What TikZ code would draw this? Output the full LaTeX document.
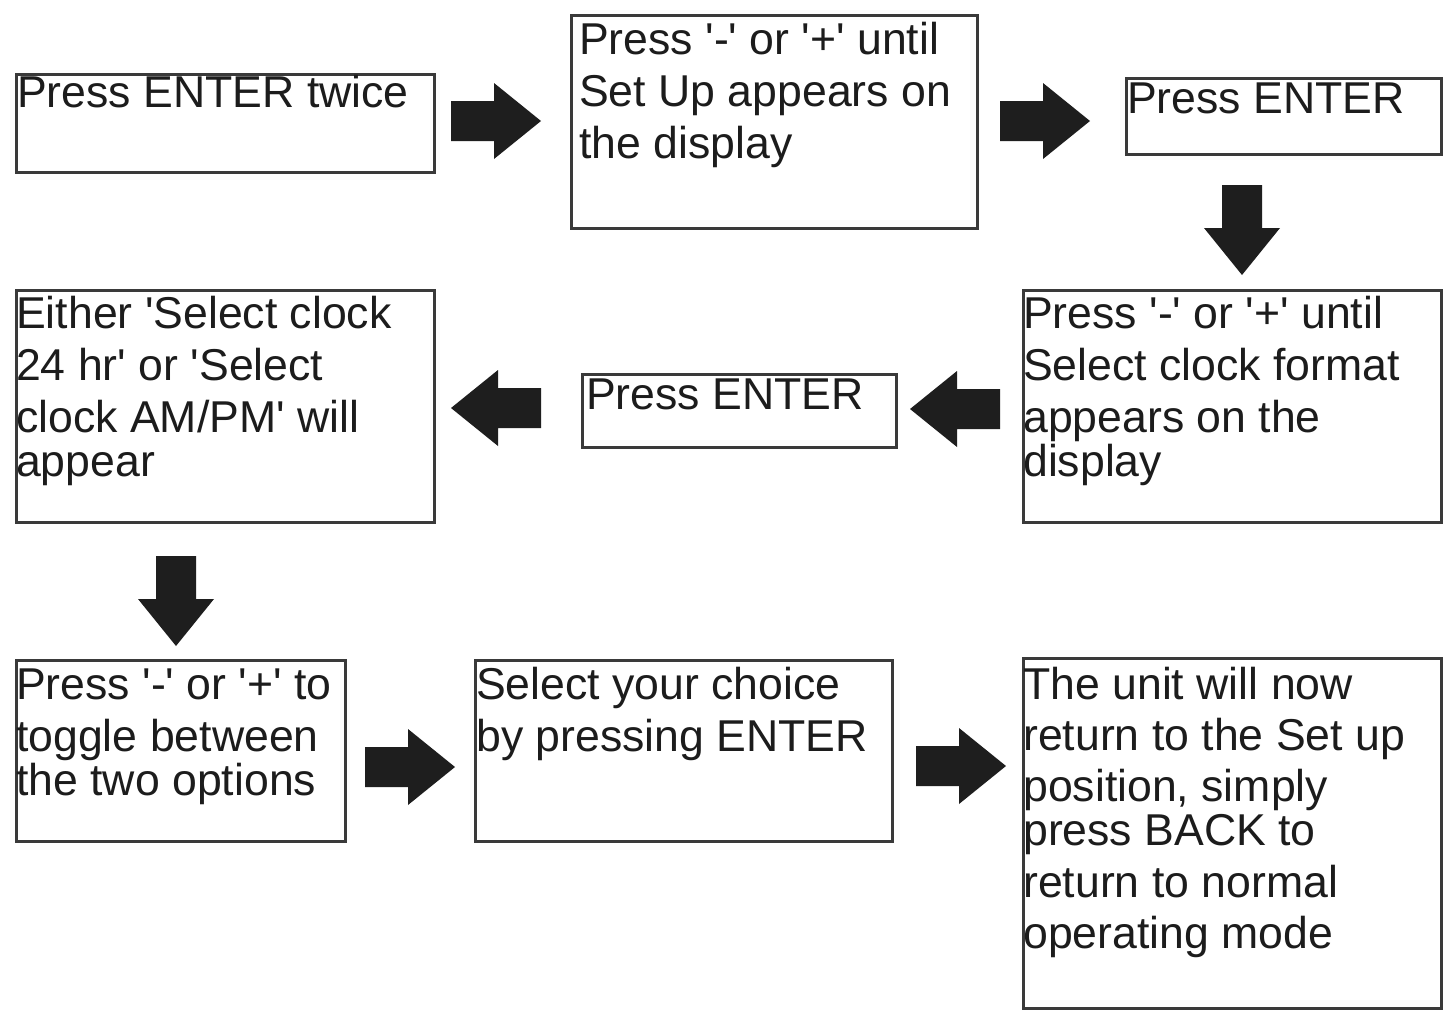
\documentclass[tikz,border=0pt]{standalone}
\usepackage{fontspec}
\newfontfamily\arialf{Liberation Sans}
\definecolor{boxline}{HTML}{3A3A3A}
\definecolor{inkc}{HTML}{1C1C1C}
\definecolor{arrowc}{HTML}{1E1E1E}
\tikzset{
  box/.style={draw=boxline, line width=3pt, fill=white, rectangle, inner sep=0pt, anchor=north west},
  txt/.style={inner sep=0pt, anchor=base west, align=left, text=inkc, font=\arialf\fontsize{44.6}{52}\selectfont},
  blockarrow/.style={fill=arrowc}
}
\newcommand\bigarrow[3]{%
  \fill[blockarrow, shift={(#1,#2)}, rotate=#3]
    (-45,-20) -- (-2,-20) -- (-2,-38) -- (45,0) -- (-2,38) -- (-2,20) -- (-45,20) -- cycle;}
\begin{document}
\begin{tikzpicture}[x=1pt,y=-1pt]
\useasboundingbox[fill=white] (0,0) rectangle (1445,1012);
% boxes
\node[box, minimum width=418, minimum height=98]  (A) at (15,73) {};
\node[box, minimum width=406, minimum height=213] (B) at (570,14) {};
\node[box, minimum width=315, minimum height=76]  (C) at (1125,77) {};
\node[box, minimum width=418, minimum height=232] (D) at (1022,289) {};
\node[box, minimum width=314, minimum height=73]  (E) at (581,373) {};
\node[box, minimum width=418, minimum height=232] (F) at (15,289) {};
\node[box, minimum width=329, minimum height=181] (G) at (15,659) {};
\node[box, minimum width=417, minimum height=181] (H) at (474,659) {};
\node[box, minimum width=418, minimum height=350] (I) at (1022,657) {};
% texts (anchor = baseline of the last line)
\node[txt] (tA) at (17,107) {Press ENTER twice};
\node[txt] (tB) at (579,158) {Press '-' or '+' until\\Set Up appears on\\the display};
\node[txt] (tC) at (1127,113) {Press ENTER};
\node[txt] (tD) at (1023,476) {Press '-' or '+' until\\Select clock format\\appears on the\\[-8pt]display};
\node[txt] (tE) at (586,409) {Press ENTER};
\node[txt] (tF) at (16,476) {Either 'Select clock\\24 hr' or 'Select\\clock AM/PM' will\\[-8pt]appear};
\node[txt] (tG) at (16,795) {Press '-' or '+' to\\toggle between\\[-8pt]the two options};
\node[txt] (tH) at (476,751) {Select your choice\\by pressing ENTER};
\node[txt] (tI) at (1023,948) {The unit will now\\[-1pt]return to the Set up\\[-1pt]position, simply\\[-8pt]press BACK to\\return to normal\\[-1pt]operating mode};
% block arrows
\bigarrow{496}{121}{0}
\bigarrow{1045}{121}{0}
\bigarrow{1242}{230}{-90}
\bigarrow{955}{409}{180}
\bigarrow{496}{408}{180}
\bigarrow{176}{601}{-90}
\bigarrow{410}{767}{0}
\bigarrow{961}{766}{0}
\end{tikzpicture}
\end{document}
